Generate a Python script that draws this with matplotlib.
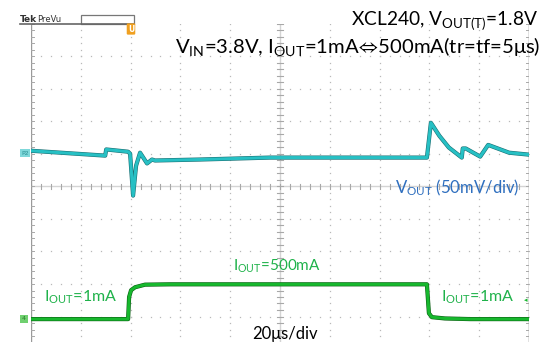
"""Load transient scope capture: XCL240, Vout=1.8V, Iout 1mA <-> 500mA."""
import numpy as np
import matplotlib
matplotlib.use("Agg")
import matplotlib.pyplot as plt
import matplotlib.patheffects as pe

plt.rcParams["font.family"] = ["Lato", "DejaVu Sans"]
plt.rcParams["mathtext.fontset"] = "custom"
plt.rcParams["mathtext.rm"] = "Lato"
plt.rcParams["mathtext.it"] = "Lato:italic"
plt.rcParams["mathtext.fallback"] = "stixsans"

# traces, in graticule divisions (x: 0..10, y: -5..5, 0 = centre line)
vout_t = [0.0, 1.49, 1.51, 1.95, 1.99, 2.05, 2.11, 2.19, 2.33, 2.43, 2.49, 3.39, 4.80,
          7.95, 8.03, 8.20, 8.39, 8.65, 8.67, 8.73, 9.02, 9.18, 9.60, 10.0]
vout_v = [1.10, 0.95, 1.14, 1.07, 1.01, -0.28, 0.64, 1.04, 0.71, 0.83, 0.80, 0.83, 0.89,
          0.89, 1.96, 1.56, 1.20, 0.89, 1.17, 1.17, 0.92, 1.28, 1.04, 0.98]
iout_t = [0.0, 1.95, 1.97, 2.01, 2.09, 2.29, 2.79, 7.95, 7.99, 8.05, 8.31, 8.82, 10.0]
iout_v = [-4.08, -4.08, -3.40, -3.19, -3.10, -3.02, -3.01, -3.01, -3.90, -4.02, -4.06, -4.08, -4.08]

W, H = 541, 342
CYAN, CYAN_D = "#27c0c4", "#1b6f73"
GREEN, GREEN_D = "#17b82e", "#0b5e12"
TXT_G, TXT_B = "#1fb24a", "#2f6fbf"
GRID = "#b9b9b9"


def fx(px):
    return px / W


def fy(py):
    return 1 - py / H


fig = plt.figure(figsize=(W / 100, H / 100), dpi=100)
# graticule: left 31px, right 529px, top 24px, bottom 349px (cut off)
ax = fig.add_axes([fx(31), fy(349), (529 - 31) / W, (349 - 24) / H])
ax.set_xlim(0, 10); ax.set_ylim(-5, 5)
ax.axis("off")

minor = np.arange(0, 10.01, 0.2)
for gx in range(1, 10):
    if gx == 5:
        continue
    ax.plot(np.full_like(minor, gx), minor - 5, ls="none", marker="s", ms=0.9,
            color=GRID, mec="none")
for gy in range(-4, 5):
    if gy == 0:
        continue
    ax.plot(minor, np.full_like(minor, gy), ls="none", marker="s", ms=0.9,
            color=GRID, mec="none")
# centre cross with tick marks
ax.axhline(0, color="#d4d4d4", lw=1.0)
ax.axvline(5, color="#d4d4d4", lw=1.0)
for m in minor:
    ax.plot([m, m], [-0.07, 0.07], color="#a8a8a8", lw=0.8)
    ax.plot([4.93, 5.07], [m - 5, m - 5], color="#a8a8a8", lw=0.8)
# left / right borders with ticks
ax.axvline(0, color="#9a9a9a", lw=1.0)
ax.axvline(10, color="#6a6a6a", lw=1.0)
for m in minor:
    ax.plot([0, 0.06], [m - 5, m - 5], color="#a8a8a8", lw=0.7)
    ax.plot([9.94, 10], [m - 5, m - 5], color="#a8a8a8", lw=0.7)

# traces
ax.plot(vout_t, vout_v, color=CYAN, lw=2.2, solid_joinstyle="round",
        path_effects=[pe.Stroke(linewidth=3.0, foreground=CYAN_D), pe.Normal()])
ax.plot(iout_t, iout_v, color=GREEN, lw=2.2, solid_joinstyle="round",
        path_effects=[pe.Stroke(linewidth=3.0, foreground=GREEN_D), pe.Normal()])

# scope overlay bits
fig.text(fx(20), fy(19), "Tek", fontsize=6.5, weight="bold", family="DejaVu Sans",
         va="center", color="#333333")
fig.text(fx(37), fy(19), "PreVu", fontsize=6, family="DejaVu Sans", va="center",
         color="#333333")
fig.add_artist(plt.Line2D([fx(20), fx(134)], [fy(23.5), fy(23.5)], color="#666666", lw=1.2))
fig.add_artist(plt.Rectangle((fx(81), fy(23.5)), fx(53), 8.5 / H, fill=False,
                             ec="#777777", lw=0.9))
fig.text(fx(131), fy(29), "U", fontsize=5.5, weight="bold", color="white", ha="center",
         va="center", family="DejaVu Sans",
         bbox=dict(boxstyle="round,pad=0.15", fc="#f0a020", ec="none"))
fig.text(fx(25), fy(153), "P2", fontsize=4.5, color="#2a8f93", ha="center", va="center",
         family="DejaVu Sans", bbox=dict(boxstyle="square,pad=0.2", fc="#7fd8da", ec="none"))
fig.text(fx(24), fy(319), "4", fontsize=4.5, color="#2a7a2a", ha="center", va="center",
         family="DejaVu Sans", bbox=dict(boxstyle="square,pad=0.3", fc="#6fd06f", ec="none"))
fig.text(fx(526), fy(300), "\u25c2", fontsize=5, color=GREEN, ha="center", va="center",
         family="DejaVu Sans")

# annotations
fig.text(fx(538), fy(21), r"XCL240, V$_{\mathrm{OUT(T)}}$=1.8V", fontsize=13.8,
         ha="right", va="center")
fig.text(fx(540), fy(47),
         "V$_{\\mathrm{IN}}$=3.8V, I$_{\\mathrm{OUT}}$=1mA$\\!\\Leftrightarrow\\!$500mA(tr=tf=5\u03bcs)",
         fontsize=14.6, ha="right", va="center")
fig.text(fx(395), fy(188), r"V$_{\mathrm{OUT}}$ (50mV/div)", fontsize=12, color=TXT_B,
         va="center")
fig.text(fx(233), fy(266), r"I$_{\mathrm{OUT}}$=500mA", fontsize=11, color=TXT_G,
         va="center")
fig.text(fx(44), fy(297), r"I$_{\mathrm{OUT}}$=1mA", fontsize=11.5, color=TXT_G,
         va="center")
fig.text(fx(441), fy(297), r"I$_{\mathrm{OUT}}$=1mA", fontsize=11.5, color=TXT_G,
         va="center")
fig.text(fx(252), fy(334), "20\u03bcs/div", fontsize=12, color="black", va="center")

fig.savefig("out.png", dpi=100)
